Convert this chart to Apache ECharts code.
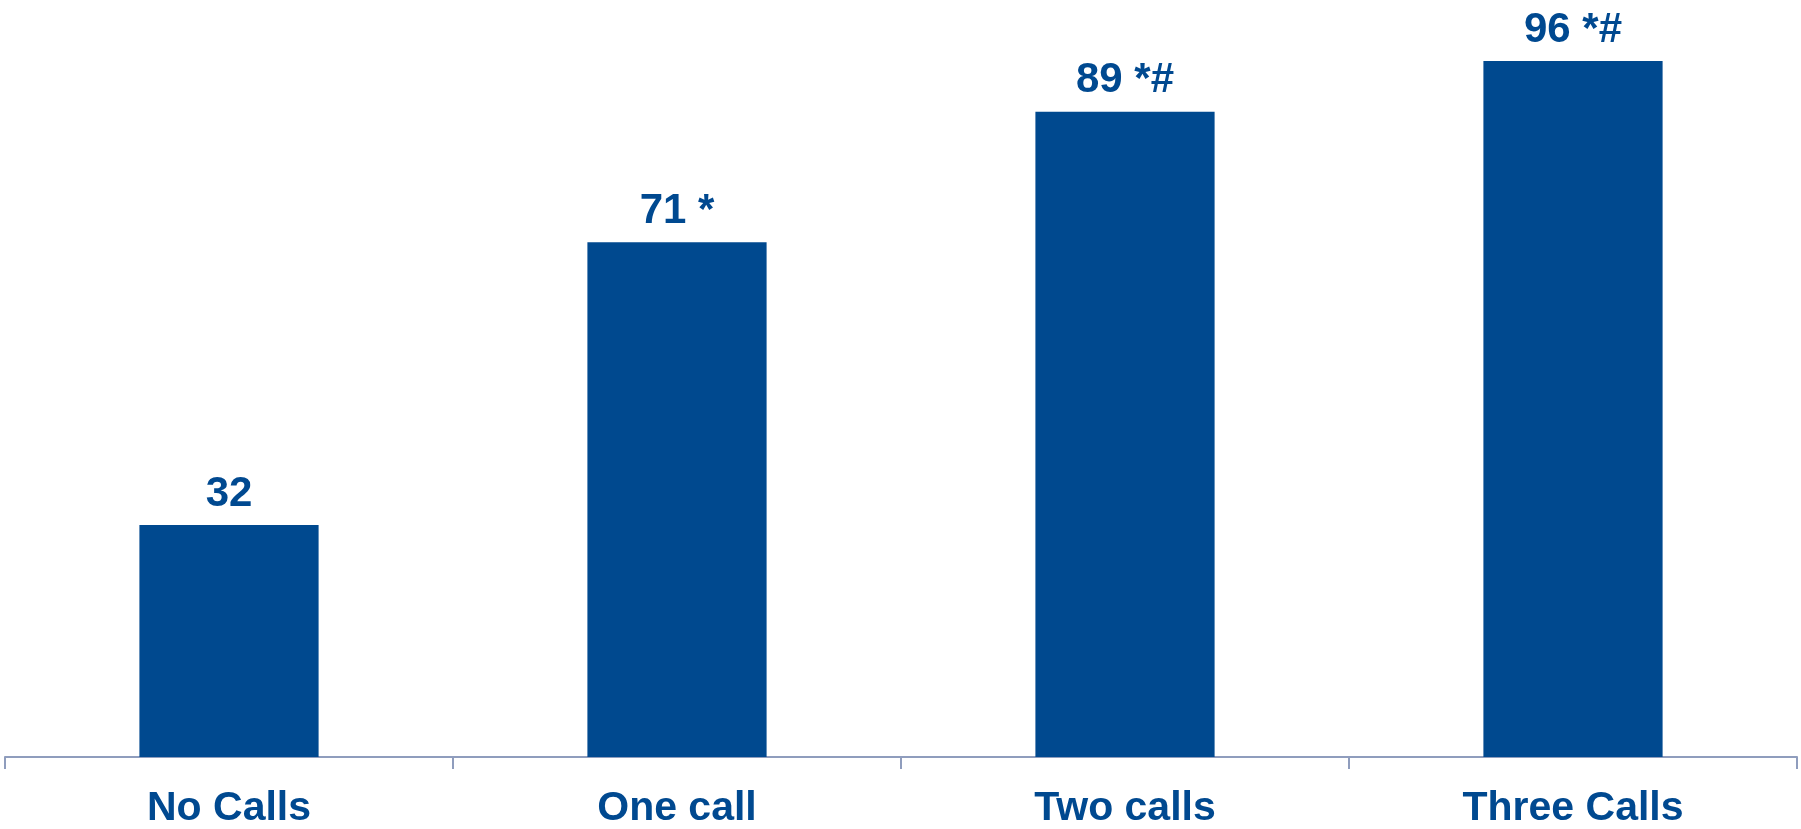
<!DOCTYPE html>
<html><head><meta charset="utf-8">
<script src="https://cdn.jsdelivr.net/npm/echarts@6/dist/echarts.min.js"></script>
<style>html,body{margin:0;padding:0;background:#fff}#c{width:1801px;height:829px}</style>
</head><body><div id="c"></div>
<script>
const categories = ['No Calls', 'One call', 'Two calls', 'Three Calls'];
const values = [32, 71, 89, 96];
const markers = ['', ' *', ' *#', ' *#'];
const chart = echarts.init(document.getElementById('c'));
chart.setOption({
  animation: false,
  grid: { left: 5, right: 4, top: 32, bottom: 72 },
  xAxis: {
    type: 'category', data: categories,
    axisLine: { lineStyle: { color: '#8f9dbd', width: 2 } },
    axisTick: { show: true, length: 12, lineStyle: { color: '#8f9dbd', width: 2 } },
    axisLabel: { color: '#004990', fontFamily: 'Liberation Sans, Arial', fontWeight: 'bold', fontSize: 41, margin: 31 }
  },
  yAxis: { type: 'value', min: 0, max: 100, show: false, splitLine: { show: false } },
  series: [{
    type: 'bar', data: values, barWidth: '40%',
    itemStyle: { color: '#00498f' },
    label: {
      show: true, position: 'top', distance: 10,
      color: '#004990', fontFamily: 'Liberation Sans, Arial', fontWeight: 'bold', fontSize: 42,
      formatter: p => p.value + markers[p.dataIndex]
    }
  }]
});
</script></body></html>
